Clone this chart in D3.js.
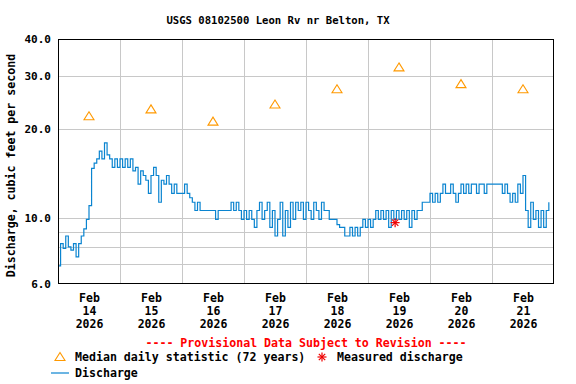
<!DOCTYPE html>
<html>
<head>
<meta charset="utf-8">
<script src="https://cdn.jsdelivr.net/npm/d3@7"></script>
<style>
  body { margin: 0; background: #fff; }
  text { font-family: "DejaVu Sans Mono", monospace; font-weight: bold; }
</style>
</head>
<body>
<svg id="chart" width="576" height="384"></svg>
<script>
const title = "USGS 08102500 Leon Rv nr Belton, TX";
const yTitle = "Discharge, cubic feet per second";
const days = ["14", "15", "16", "17", "18", "19", "20", "21"];
const yTickValues = [6, 10, 20, 30, 40];
const yGridValues = [7, 8, 9, 10, 20, 30];

// median daily statistic, one per day (noon)
const medianValues = [22.0, 23.2, 21.1, 24.1, 27.1, 32.1, 28.2, 27.1];

// measured discharge
const measuredHour = 130.5; // hours after Feb 14 00:00
const measuredValue = 9.65;

// hourly discharge, cfs
const q14 = [6.9, 8.2, 7.9, 8.7, 8.0, 7.8, 8.2, 7.4, 8.2, 8.7, 9.2, 9.9, 11.0, 14.7, 15.3, 15.8, 16.8, 15.8, 17.9, 16.3, 15.8, 14.8, 15.8, 14.8];
const q15 = [15.8, 14.8, 15.8, 14.8, 15.8, 14.4, 14.8, 13.0, 14.4, 13.9, 13.4, 12.1, 13.9, 14.8, 13.9, 11.3, 13.4, 13.0, 13.9, 13.0, 12.1, 13.0, 12.1, 12.1];
const q16 = [12.1, 13.0, 12.1, 11.7, 11.3, 10.6, 11.3, 10.6, 10.6, 10.6, 10.6, 10.6, 10.6, 9.9, 10.6, 10.6, 10.6, 10.6, 10.6, 11.3, 10.6, 11.3, 10.6, 9.9];
const q17 = [10.6, 9.9, 10.6, 9.9, 9.3, 10.6, 11.3, 9.9, 10.6, 11.3, 9.3, 10.6, 8.7, 9.9, 11.3, 8.7, 10.6, 9.3, 11.3, 9.9, 11.3, 10.6, 11.3, 9.9];
const q18 = [11.3, 10.6, 9.9, 11.3, 10.6, 9.9, 11.3, 10.6, 10.6, 9.9, 9.9, 9.9, 9.5, 9.3, 9.3, 8.7, 8.7, 9.3, 8.7, 9.3, 8.7, 9.3, 9.9, 9.3];
const q19 = [9.9, 9.3, 9.9, 10.6, 9.9, 10.6, 9.9, 10.6, 9.3, 10.6, 9.9, 10.6, 9.9, 10.6, 9.9, 10.6, 9.3, 10.6, 9.9, 10.6, 10.6, 11.3, 11.3, 11.3];
const q20 = [12.1, 11.3, 12.1, 11.3, 12.1, 13.0, 12.1, 12.1, 13.0, 12.1, 11.3, 12.1, 13.0, 12.1, 13.0, 12.1, 13.0, 13.0, 12.1, 13.0, 13.0, 12.1, 13.0, 13.0];
const q21 = [13.0, 13.0, 13.0, 13.0, 12.1, 13.0, 12.1, 11.3, 12.1, 11.3, 13.0, 12.1, 13.9, 10.6, 9.3, 11.3, 9.9, 10.6, 9.3, 10.6, 9.3, 10.6, 11.3];

const HOUR = 3600 * 1000;
const t0 = Date.UTC(2026, 1, 14);
const discharge = [q14, q15, q16, q17, q18, q19, q20, q21].flat()
  .map((v, i) => ({ t: new Date(t0 + i * HOUR), v: v }));

const margin = { top: 39, right: 22, bottom: 100, left: 58 };
const w = 576, h = 384;

const svg = d3.select("#chart");

const x = d3.scaleUtc()
  .domain([new Date(t0), new Date(t0 + 8 * 24 * HOUR)])
  .range([margin.left, w - margin.right]);

const y = d3.scaleLog()
  .domain([6, 40])
  .range([h - margin.bottom, margin.top]);

const noon = days.map((d, i) => new Date(t0 + (i * 24 + 12) * HOUR));
const midnights = days.slice(1).map((d, i) => new Date(t0 + (i + 1) * 24 * HOUR));

// grid
const grid = svg.append("g")
  .attr("stroke", "#c8c8c8")
  .attr("stroke-width", 1)
  .attr("shape-rendering", "crispEdges");

grid.selectAll("line.v")
  .data(midnights)
  .join("line")
    .attr("class", "v")
    .attr("x1", d => Math.round(x(d)) + 0.5)
    .attr("x2", d => Math.round(x(d)) + 0.5)
    .attr("y1", margin.top)
    .attr("y2", h - margin.bottom);

grid.selectAll("line.h")
  .data(yGridValues)
  .join("line")
    .attr("class", "h")
    .attr("x1", margin.left)
    .attr("x2", w - margin.right)
    .attr("y1", d => Math.round(y(d)) + 0.5)
    .attr("y2", d => Math.round(y(d)) + 0.5);

// discharge line
const line = d3.line()
  .x(d => x(d.t))
  .y(d => y(d.v))
  .curve(d3.curveStepAfter);

svg.append("path")
  .datum(discharge)
  .attr("fill", "none")
  .attr("stroke", "#0a84d0")
  .attr("stroke-width", 1.2)
  .attr("d", line);

// median triangles
const tri = "M0,-4.5 L5,3.5 L-5,3.5 Z";
svg.selectAll("path.median")
  .data(medianValues)
  .join("path")
    .attr("class", "median")
    .attr("transform", (d, i) => `translate(${x(noon[i])},${y(d)})`)
    .attr("d", tri)
    .attr("fill", "none")
    .attr("stroke", "#ff9900")
    .attr("stroke-width", 1.1);

// measured discharge asterisk
function asterisk(g, cx, cy, r) {
  const a = g.append("g")
    .attr("transform", `translate(${cx},${cy})`)
    .attr("stroke", "#ee0000")
    .attr("stroke-width", 1.2);
  [0, 45, 90, 135].forEach(ang => {
    const rad = ang * Math.PI / 180;
    a.append("line")
      .attr("x1", -r * Math.cos(rad)).attr("y1", -r * Math.sin(rad))
      .attr("x2", r * Math.cos(rad)).attr("y2", r * Math.sin(rad));
  });
}
asterisk(svg, x(new Date(t0 + measuredHour * HOUR)), y(measuredValue), 4.5);

// frame
svg.append("rect")
  .attr("x", margin.left + 0.5)
  .attr("y", margin.top + 0.5)
  .attr("width", w - margin.left - margin.right - 1)
  .attr("height", h - margin.top - margin.bottom - 1)
  .attr("fill", "none")
  .attr("stroke", "#000")
  .attr("stroke-width", 1)
  .attr("shape-rendering", "crispEdges");

// y axis labels
const yAxis = d3.axisLeft(y)
  .tickValues(yTickValues)
  .tickFormat(d3.format(".1f"))
  .tickSize(0)
  .tickPadding(7);

svg.append("g")
  .attr("transform", `translate(${margin.left},0)`)
  .call(yAxis)
  .call(g => g.select(".domain").remove())
  .call(g => g.selectAll("text")
    .attr("font-family", "DejaVu Sans Mono")
    .attr("font-weight", "bold")
    .attr("font-size", 11)
    .attr("fill", "#000"));

// x axis labels (three lines each)
const xAxis = d3.axisBottom(x)
  .tickValues(noon)
  .tickSize(0)
  .tickFormat("");

const xg = svg.append("g")
  .attr("transform", `translate(0,${h - margin.bottom})`)
  .call(xAxis)
  .call(g => g.select(".domain").remove());

xg.selectAll(".tick")
  .each(function(d, i) {
    const t = d3.select(this).select("text")
      .attr("y", 0)
      .attr("dy", null)
      .attr("font-family", "DejaVu Sans Mono")
      .attr("font-weight", "bold")
      .attr("font-size", 11.5)
      .attr("fill", "#000");
    ["Feb", days[i], "2026"].forEach((s, k) => {
      t.append("tspan").attr("x", 0).attr("y", 18 + k * 13).text(s);
    });
  });

// title
svg.append("text")
  .attr("x", 278)
  .attr("y", 24)
  .attr("text-anchor", "middle")
  .attr("font-size", 10.6)
  .text(title);

// y title
svg.append("text")
  .attr("transform", `translate(15,${(margin.top + h - margin.bottom) / 2 + 4}) rotate(-90)`)
  .attr("text-anchor", "middle")
  .attr("font-size", 11.6)
  .text(yTitle);

// provisional note
svg.append("text")
  .attr("x", 306)
  .attr("y", 347)
  .attr("text-anchor", "middle")
  .attr("font-size", 11.6)
  .attr("fill", "#ff0000")
  .text("---- Provisional Data Subject to Revision ----");

// legend
const legend = svg.append("g").attr("font-size", 11.6);
legend.append("path")
  .attr("transform", "translate(60,357)")
  .attr("d", tri)
  .attr("fill", "none")
  .attr("stroke", "#ff9900")
  .attr("stroke-width", 1.1);
legend.append("text").attr("x", 75).attr("y", 361).text("Median daily statistic (72 years)");
asterisk(legend, 322, 357, 4.5);
legend.append("text").attr("x", 337).attr("y", 361).text("Measured discharge");
legend.append("line")
  .attr("x1", 51).attr("x2", 69)
  .attr("y1", 373).attr("y2", 373)
  .attr("stroke", "#0a84d0")
  .attr("stroke-width", 1.2);
legend.append("text").attr("x", 75).attr("y", 377).text("Discharge");
</script>
</body>
</html>
